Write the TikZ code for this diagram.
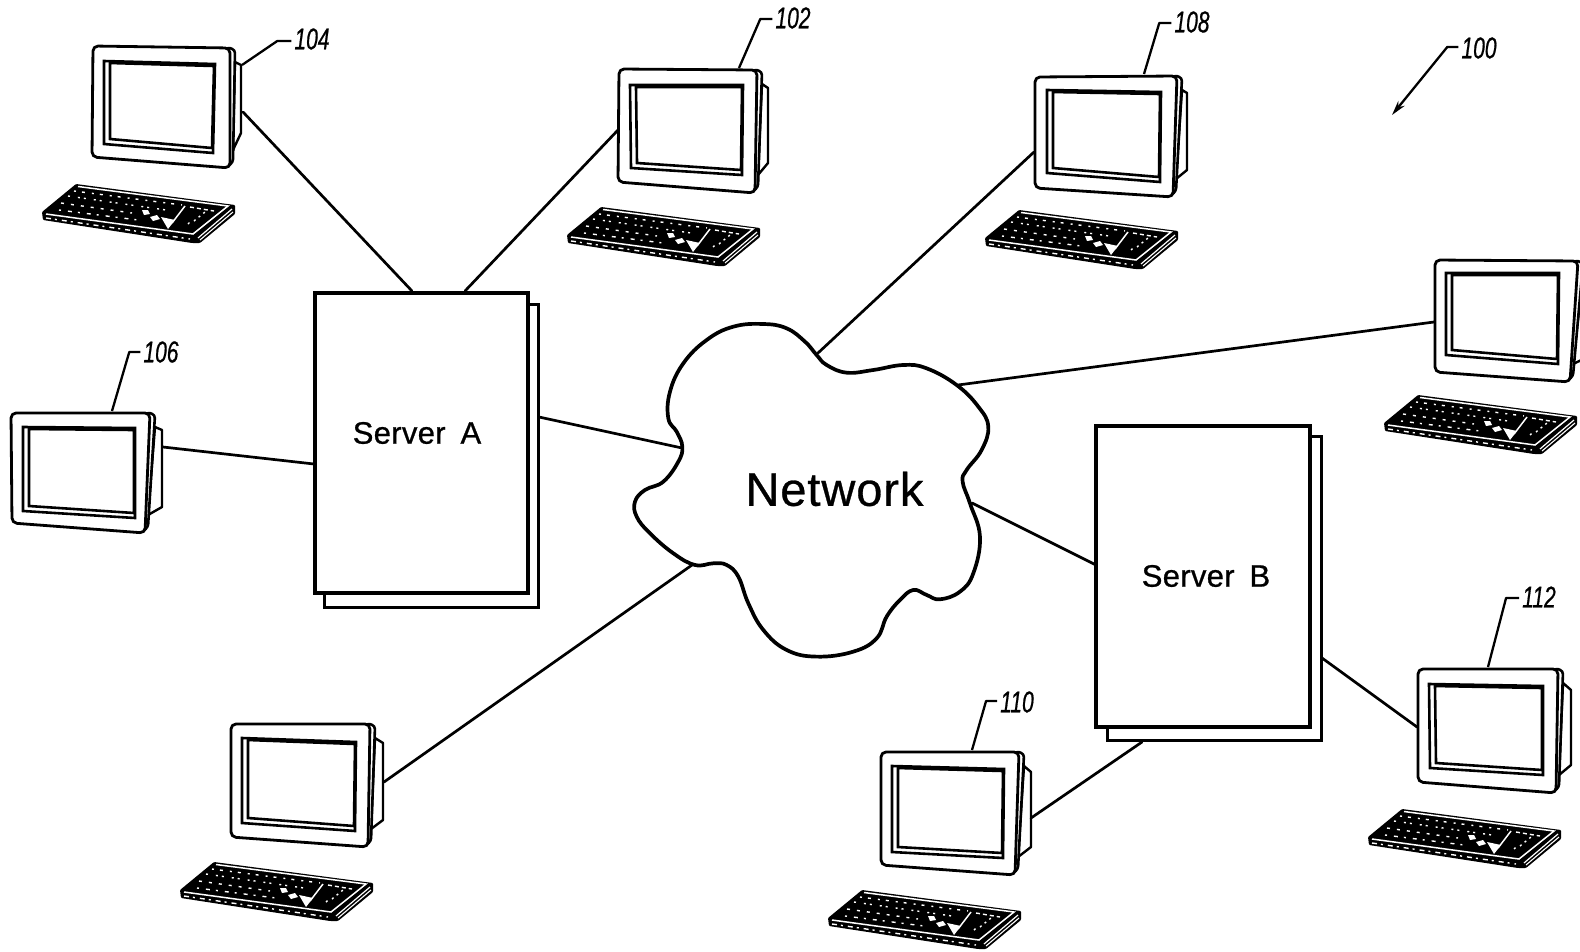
\documentclass[tikz,border=0pt]{standalone}
\usepackage{fontspec}
\setmainfont{Liberation Sans}
\usetikzlibrary{arrows.meta}
\tikzset{
  conn/.style={line width=2.7pt,line cap=round},
  leader/.style={line width=2.3pt,line join=round},
  refnum/.style={inner sep=0pt,font=\fontsize{30}{30}\selectfont\itshape\addfontfeatures{FakeBold=0.8}},
  sheet/.style={draw,fill=white,line width=3.4pt,minimum width=#1,inner sep=0pt},
  srvtext/.style={inner sep=0pt,font=\fontsize{31}{31}\selectfont\addfontfeatures{LetterSpace=1,FakeBold=0.8}},
  nettext/.style={inner sep=0pt,font=\fontsize{47}{47}\selectfont\addfontfeatures{LetterSpace=2,FakeBold=0.6}},
  cloudline/.style={line width=3.7pt,fill=white},
  bezel/.style={draw,fill=white,line width=2.8pt,rounded corners=5pt,line join=round},
  screenline/.style={draw,fill=white,line width=2.6pt,line join=miter},
  kw/.style={white,line width=1.4pt},
  keyboard/.pic={
    \fill[black,rounded corners=1pt] (0,0) -- (34,-28) -- (193,-7) -- (193,2) -- (158,31) -- (150,31) -- (1,8) -- cycle;
    % white rim strips
    \draw[white,line width=1.5pt] (36,-25.5) -- (186,-6) -- (151,22) -- (4,2);
    \draw[white,line width=1.2pt] (190,-3) -- (156,26);
    \draw[white,line width=1.1pt] (191,0) -- (158,28);
    \draw[kw,dash pattern=on 5pt off 4pt on 2pt off 5pt] (4,6) -- (148,27);
    % rows of keys
    \draw[kw,dash pattern=on 2pt off 6pt on 3pt off 7pt] (32,-21) -- (140,-7);
    \draw[kw,dash pattern=on 2pt off 8pt on 2pt off 4pt] (26,-16) -- (124,-2);
    \draw[kw,dash pattern=on 3pt off 7pt] (19,-9) -- (90,1);
    \draw[kw,dash pattern=on 2pt off 7pt on 4pt off 6pt] (17,-2) -- (96,8);
    % arrow keys and numeric pad
    \fill[white] (100,-2) -- (106,-2) -- (108,2) -- (102,3) -- cycle;
    \fill[white] (108,5) -- (115,3) -- (118,7) -- (111,9) -- cycle;
    \fill[white] (119,5) -- (133,8) -- (126,17) -- cycle;
    \draw[white,line width=1.5pt] (130,11) -- (143,-6);
    \draw[kw,dash pattern=on 4pt off 3pt] (148,-5) -- (172,-1);
    \draw[kw,dash pattern=on 2pt off 4pt] (152,9) -- (163,0);
    \draw[kw,dash pattern=on 2pt off 5pt] (146,12) -- (150,8);
  }
}
\begin{document}
\begin{tikzpicture}[x=1pt,y=-1pt]
\useasboundingbox (0,0) rectangle (1580,951);

% servers
\node[sheet=214pt,minimum height=303pt,line width=3pt] (srvAback) at (431.5,456) {};
\node[sheet=213pt,minimum height=300pt] (srvA) at (421.5,443) {};
\node[srvtext] (srvAlabel) at (417,433) {Server\hspace{6pt} A};
\node[sheet=214pt,minimum height=304pt,line width=3pt] (srvBback) at (1214,588) {};
\node[sheet=214pt,minimum height=301pt] (srvB) at (1203,576.5) {};
\node[srvtext] (srvBlabel) at (1206,576) {Server\hspace{6pt} B};

% cloud
\begin{scope}[shift={(620,310)},x=0.3333pt,y=-0.3333pt]
\draw[cloudline] plot[smooth cycle,tension=0.7] coordinates {
 (590,135)(620,165)(680,188)(760,180)(850,165)(920,175)(1010,225)(1075,290)(1105,350)(1085,420)
 (1040,480)(1028,515)(1050,580)(1080,680)(1060,790)(1020,845)(960,868)(920,855)(880,840)(840,870)
 (800,920)(770,985)(700,1025)(590,1040)(500,1020)(430,960)(385,880)(355,800)(320,765)(280,760)
 (225,765)(160,730)(90,670)(50,620)(45,575)(75,540)(130,515)(175,455)(187,410)(170,365)
 (145,325)(150,245)(190,160)(260,90)(340,50)(430,42)(500,55)(555,95)};
\end{scope}
\node[nettext] (network) at (834.5,489) {Network};

% monitors: name / bezel TL TR BR BL / screen TL TR BR BL / back x y1 y2
\foreach \n/\ax/\ay/\bx/\by/\cx/\cy/\dx/\dy/\ex/\ey/\fx/\fy/\gx/\gy/\hx/\hy/\rx/\ru/\rv in {
 pcA/93/46/235/48/232/168/92/157/104/61/215/64/213/153/104/144/241/65/133,
 pcB/619/69/762/70/757/193/618/182/630/85/743/85/742/175/631/168/768/88/163,
 pcC/1035/77/1182/76/1175/197/1035/188/1047/90/1161/92/1160/182/1047/173/1187/93/170,
 pcD/1435/260/1583/261/1572/382/1435/372/1446/273/1559/273/1558/364/1446/355/1592/280/355,
 pcE/11/413/155/413/147/533/12/523/23/427/135/428/135/518/23/511/162/430/507,
 pcF/231/724/375/724/370/847/231/837/242/738/356/742/355/831/242/823/383/743/820,
 pcG/881/752/1024/752/1017/875/881/865/892/766/1004/769/1003/858/892/852/1031/772/847,
 pcH/1418/669/1563/669/1558/793/1418/782/1429/684/1543/686/1543/775/1430/768/1571/690/765}{
  % rear housing
  \draw[line width=2.4pt,fill=white,line join=round] (\bx,\by+14) -- (\rx,\ru) -- (\rx,\rv) -- (\cx+1,\cy-18) -- cycle;
  % side of the case
  \draw[line width=2.6pt,fill=white,rounded corners=3pt,line join=round] (\bx-8,\by-1) -- (\bx,\by+2) -- (\cx+1,\cy-6) -- (\cx-6,\cy) -- cycle;
  % front of the case
  \path[bezel] (\ax,\ay) -- (\bx-5,\by) -- (\cx-2,\cy) -- (\dx,\dy) -- cycle;
  % screen
  \path[screenline] (\ex,\ey) -- (\fx,\fy) -- (\gx,\gy) -- (\hx,\hy) -- cycle;
  \path[screenline] (\ex+6,\ey+2) -- (\fx-1,\fy+2) -- (\gx-1,\gy-5) -- (\hx+6,\hy-5) -- cycle;
}

% keyboards
\pic (kbA) at (42,212) {keyboard};
\pic (kbB) at (567,235) {keyboard};
\pic (kbC) at (985,238) {keyboard};
\pic (kbD) at (1384,423) {keyboard};
\pic (kbF) at (180,890) {keyboard};
\pic (kbG) at (828,918) {keyboard};
\pic (kbH) at (1368,837) {keyboard};

% connector ends
\coordinate (pA) at (243,112);   \coordinate (aA) at (412,291);
\coordinate (pB) at (618,130);   \coordinate (aB) at (465,291);
\coordinate (pE) at (163,447);   \coordinate (aE) at (314,464);
\coordinate (aN) at (539,417);   \coordinate (nA) at (682,448);
\coordinate (pC) at (1034,152);  \coordinate (nC) at (818,353);
\coordinate (pD) at (1434,322);  \coordinate (nD) at (958,385);
\coordinate (nB) at (972,503);   \coordinate (bN) at (1096,565);
\coordinate (pF) at (384,782);   \coordinate (nF) at (692,565);
\coordinate (pG) at (1031,818);  \coordinate (bG) at (1142,742);
\coordinate (pH) at (1417,727);  \coordinate (bH) at (1322,658);

\draw[conn] (pA) -- (aA);
\draw[conn] (pB) -- (aB);
\draw[conn] (pE) -- (aE);
\draw[conn] (aN) -- (nA);
\draw[conn] (pC) -- (nC);
\draw[conn] (pD) -- (nD);
\draw[conn] (nB) -- (bN);
\draw[conn] (pF) -- (nF);
\draw[conn] (pG) -- (bG);
\draw[conn] (pH) -- (bH);

% reference numerals
\node[refnum] (n104) at (312,39)  {\scalebox{.7}[1]{104}};
\node[refnum] (n102) at (793,18)  {\scalebox{.7}[1]{102}};
\node[refnum] (n108) at (1192,22) {\scalebox{.7}[1]{108}};
\node[refnum] (n106) at (161,352) {\scalebox{.7}[1]{106}};
\node[refnum] (n110) at (1017,702){\scalebox{.7}[1]{110}};
\node[refnum] (n112) at (1539,597){\scalebox{.7}[1]{112}};
\node[refnum] (n100) at (1479,48) {\scalebox{.7}[1]{100}};

\draw[leader] (n104.west) ++(-3,2) -- ++(-14,0) -- (242,65);
\draw[leader] (n102.west) ++(-3,1) -- ++(-12,0) -- (739,68);
\draw[leader] (n108.west) ++(-3,1) -- ++(-12,0) -- (1144,74);
\draw[leader] (n106.west) ++(-3,0) -- ++(-11,0) -- (112,411);
\draw[leader] (n110.west) ++(-3,-1) -- ++(-11,0) -- (972,750);
\draw[leader] (n112.west) ++(-3,1) -- ++(-13,0) -- (1488,667);
\draw[leader,-{Stealth[length=15pt,width=8pt]}] (n100.west) ++(-3,-1) -- ++(-11,0) -- (1392,115);
\end{tikzpicture}
\end{document}
